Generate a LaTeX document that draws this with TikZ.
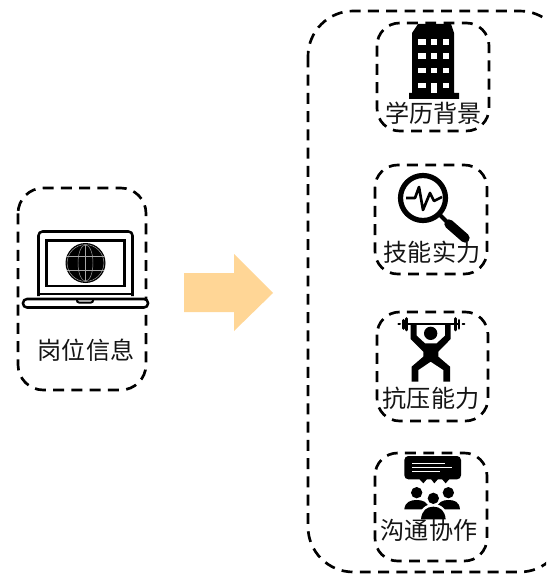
\documentclass[tikz,border=0pt]{standalone}
\usepackage{fontspec}
\newfontfamily\cjk{Noto Sans CJK SC}
\definecolor{arrowfill}{HTML}{FFD696}
\tikzset{
  dashbox/.style={draw=black,line width=2pt,dash pattern=on 8.2pt off 5.5pt,fill=none},
  lab/.style={font=\cjk\fontsize{18.1}{18.1}\selectfont,text=black!92,inner sep=0pt,anchor=center},
  ink/.style={fill=black,draw=none},
  knock/.style={fill=white,draw=none},
  outline/.style={draw=black,line width=1.9pt,fill=white,line join=round}
}
\begin{document}
\begin{tikzpicture}[x=0.75pt,y=-0.75pt]
\useasboundingbox (0,0) rectangle (546,574);
\clip (0,0) rectangle (546,574);
% frames
\draw[dashbox,rounded corners=34pt] (308,11) rectangle (565,572);
\draw[dashbox,rounded corners=19pt] (18,188) rectangle (146,390);
\draw[dashbox,rounded corners=17pt] (377,23) rectangle (489,131);
\draw[dashbox,rounded corners=17pt] (375,165) rectangle (487,274);
\draw[dashbox,rounded corners=17pt] (377,312) rectangle (488,421);
\draw[dashbox,rounded corners=17pt] (375,453) rectangle (487,561);
% big arrow
\fill[arrowfill] (184,273) -- (234,273) -- (234,254) -- (273,293) -- (234,331) -- (234,312) -- (184,312) -- cycle;
% laptop
\draw[outline,rounded corners=3pt] (38.5,296) -- (38.5,231.5) -- (132.5,231.5) -- (132.5,296);
\draw[draw=black,line width=1.9pt,fill=white] (46.5,240.5) rectangle (124.5,286);
\draw[draw=black,line width=1.9pt] (38.5,294) -- (132.5,294);
\draw[outline,rounded corners=3pt] (23,299) -- (148,299) -- (148,307.5) -- (23,307.5) -- cycle;
\draw[draw=black,line width=1.5pt,rounded corners=1.5pt] (77,299) -- (77,302.5) -- (93,302.5) -- (93,299);
\fill[black] (85.5,263) circle[radius=20];
\begin{scope}[draw=white!65!black,line width=0.35pt]
\draw (85.5,263) circle[radius=18.4];
\draw (85.5,263) ellipse[x radius=7.5,y radius=18.2];
\draw (67,256) -- (104,256);
\draw (67,270) -- (104,270);
\draw (85.5,245) -- (85.5,281);
\end{scope}
% building
\fill[ink] (418,24) -- (451,24) -- (454,33) -- (454,93) -- (459,93) -- (459,99) -- (409,99) -- (409,93) -- (412,93) -- (412,33) -- cycle;
\foreach \yy/\hh in {39/6,53/6,68/5.5,83/5.5}{
  \fill[knock] (418,\yy) rectangle +(7.5,\hh);
  \fill[knock] (443,\yy) rectangle +(6,\hh);
}
\foreach \yy/\hh in {39/6,53/6,68/5.5}{\fill[knock] (431,\yy) rectangle +(6,\hh);}
\fill[knock] (431,83) rectangle (437,93);
% magnifier
\draw[black,line width=3.9pt] (423,198) circle[radius=22.5];
\draw[black,line width=3pt] (440,215) -- (449,224);
\draw[black,line width=7pt,line cap=round] (449,224) -- (465,238);
\draw[black,line width=2pt,line join=round] (406,198) -- (415,198) -- (419,187) -- (423,210) -- (430,193) -- (434,201) -- (442,197);
% weightlifter
\begin{scope}[shift={(390,315)},x=0.25pt,y=-0.25pt]
\fill[ink] (62,30) -- (80,30) -- (80,62) -- (105,85) -- (140,85) -- (165,62) -- (165,30) -- (182,30) -- (182,72) -- (145,110) -- (145,125) -- (180,155) -- (180,200) -- (160,200) -- (160,165) -- (122,140) -- (85,165) -- (85,200) -- (65,200) -- (65,155) -- (100,125) -- (100,110) -- (62,72) -- cycle;
\fill[ink] (122,55) circle[radius=20];
\draw[black,line width=1.5pt] (35,28) -- (210,28);
\draw[black,line width=1.5pt,line cap=round] (25,28) -- (30,28);
\draw[black,line width=1.5pt,line cap=round] (218,28) -- (223,28);
\draw[black,line width=2.2pt,line cap=round] (40,16) -- (40,40);
\draw[black,line width=2.2pt,line cap=round] (50,11) -- (50,45);
\draw[black,line width=2.2pt,line cap=round] (196,11) -- (196,45);
\draw[black,line width=2.2pt,line cap=round] (207,16) -- (207,40);
\end{scope}
% team
\begin{scope}[shift={(395,450)},x=0.25pt,y=-0.25pt]
\fill[ink,rounded corners=3pt] (28,18) rectangle (198,88);
\fill[ink] (72,86) -- (85,100) -- (97,86) -- cycle;
\fill[ink] (107,86) -- (118,100) -- (130,86) -- cycle;
\fill[ink] (140,86) -- (152,100) -- (164,86) -- cycle;
\draw[white,line width=0.8pt] (52,40) -- (150,40);
\draw[white,line width=0.8pt] (52,52) -- (172,52);
\draw[white,line width=0.8pt] (52,64) -- (135,64);
\fill[ink] (65,128) circle[radius=17];
\fill[ink] (160,128) circle[radius=17];
\fill[ink] (28,178) .. controls (30,155) and (48,150) .. (65,150) .. controls (82,150) and (100,155) .. (102,178) -- cycle;
\fill[ink] (125,178) .. controls (127,155) and (145,150) .. (160,150) .. controls (178,150) and (193,155) .. (195,178) -- cycle;
\fill[white] (115,145) circle[radius=21];
\fill[ink] (115,145) circle[radius=17];
\fill[white] (70,210) .. controls (72,178) and (92,162) .. (115,162) .. controls (138,162) and (158,178) .. (160,210) -- cycle;
\fill[ink] (78,208) .. controls (80,182) and (95,170) .. (115,170) .. controls (135,170) and (150,182) .. (152,208) -- cycle;
\end{scope}
% labels
\node[lab] (info) at (86,350) {岗位信息};
\node[lab] (edu) at (433.5,113) {学历背景};
\node[lab] (skill) at (432,252) {技能实力};
\node[lab] (stress) at (431,398) {抗压能力};
\node[lab] (team) at (429,530) {沟通协作};
\end{tikzpicture}
\end{document}
